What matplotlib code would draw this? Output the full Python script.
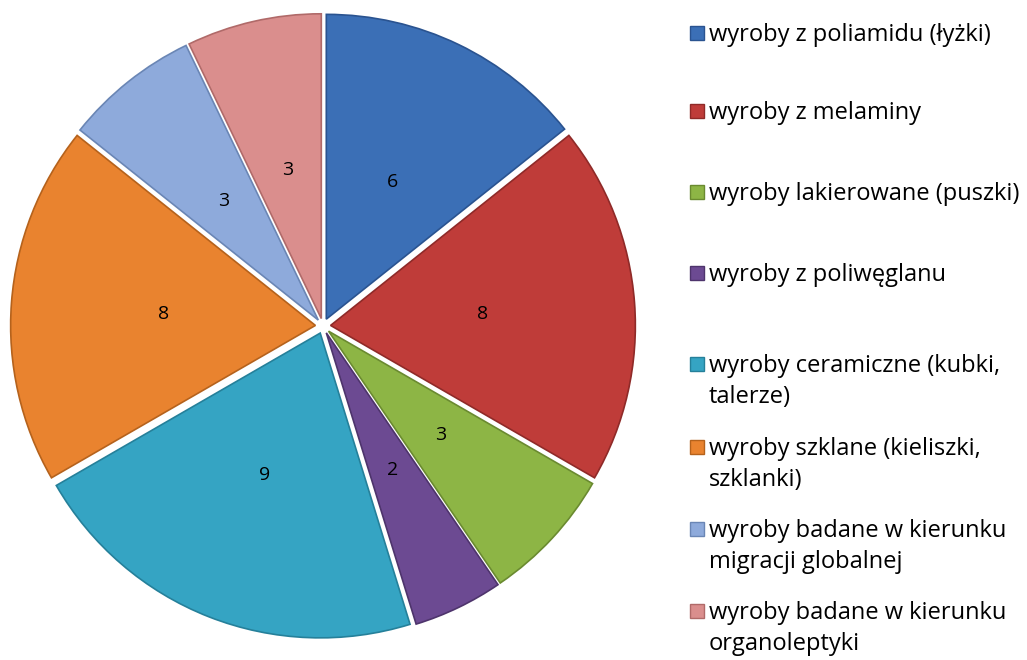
import matplotlib.pyplot as plt
from matplotlib.patches import Rectangle

labels = ['wyroby z poliamidu (łyżki)',
          'wyroby z melaminy',
          'wyroby lakierowane (puszki)',
          'wyroby z poliwęglanu',
          'wyroby ceramiczne (kubki,\ntalerze)',
          'wyroby szklane (kieliszki,\nszklanki)',
          'wyroby badane w kierunku\nmigracji globalnej',
          'wyroby badane w kierunku\norganoleptyki']
values = [6, 8, 3, 2, 9, 8, 3, 3]
colors = ['#3b6fb6', '#bf3c39', '#8db545', '#6c4a92',
          '#35a4c3', '#e9832f', '#8eaadb', '#da8e8d']
edges = ['#2a5390', '#8f2a28', '#6a8a30', '#4e346c',
         '#25809a', '#b5621c', '#6a86b5', '#b06a69']

# legend rows: pixel y (from top) of each entry's first line
legend_rows = [33, 111, 192, 273, 364, 447, 529, 611]
line_gap = 31

plt.rcParams['font.family'] = ['Open Sans', 'DejaVu Sans']

W, H = 1027, 660
fig = plt.figure(figsize=(W / 100, H / 100), dpi=100)
ax = fig.add_axes([3 / W, 14 / H, 640 / W, 640 / H])

wedges, texts = ax.pie(values, labels=[str(v) for v in values],
                       colors=colors, startangle=90, counterclock=False,
                       explode=[0.025] * len(values), labeldistance=0.5,
                       wedgeprops=dict(linewidth=1.2),
                       textprops=dict(fontsize=14, color='black', ha='center', va='center'))
for w, e in zip(wedges, edges):
    w.set_edgecolor(e)
ax.set_xlim(-1.05, 1.05)
ax.set_ylim(-1.05, 1.05)
ax.set_aspect('equal')
ax.axis('off')

# legend drawn by hand to follow the original's vertical spacing
for lab, c, e, y in zip(labels, colors, edges, legend_rows):
    fig.patches.append(Rectangle((690 / W, 1 - (y + 7) / H), 14 / W, 14 / H,
                                 facecolor=c, edgecolor=e, linewidth=1,
                                 transform=fig.transFigure))
    base = y + 8 + lab.count('\n') * line_gap
    fig.text(709 / W, 1 - base / H, lab, fontsize=17, va='baseline', ha='left',
             linespacing=1.4)

fig.savefig('out.png', dpi=100)
